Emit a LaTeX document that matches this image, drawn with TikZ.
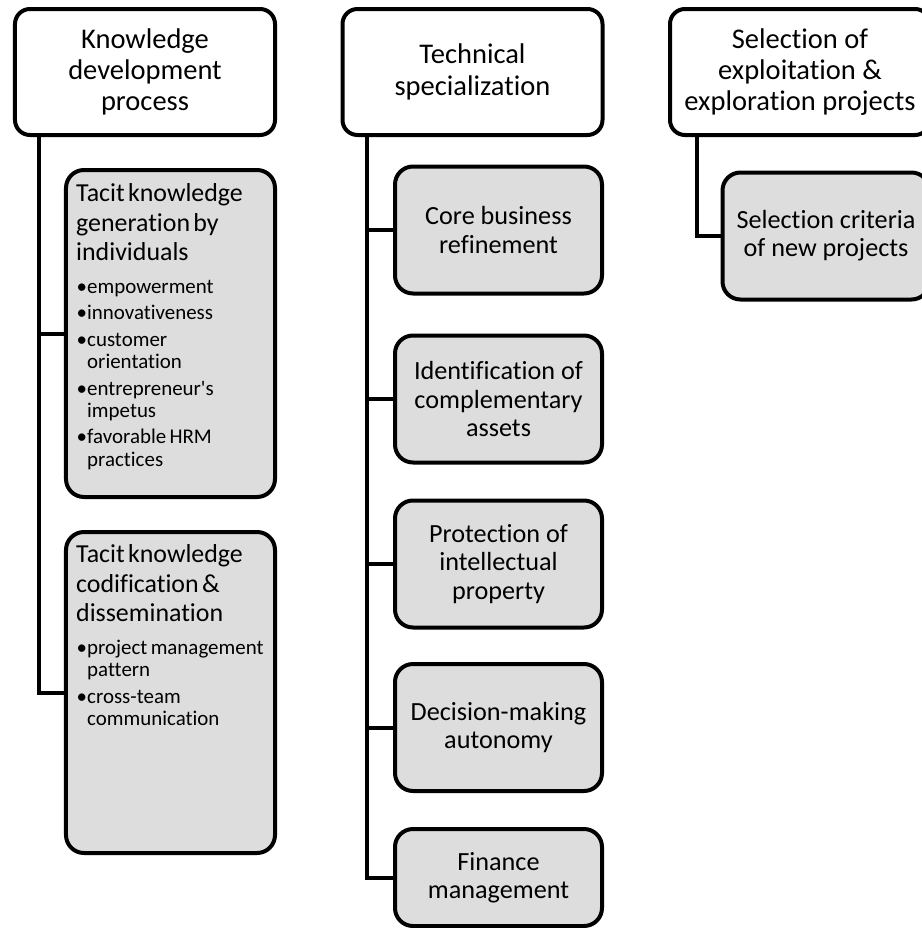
\documentclass[tikz,border=0pt]{standalone}
\usepackage{fontspec}
\setmainfont{Carlito}[Ligatures=NoCommon]
\usepackage{tikz}
\definecolor{leafBg}{RGB}{221,221,221}
\tikzset{
headbox/.style={rectangle, rounded corners=15bp, draw, line width=4bp, fill=white,
  minimum width=260bp, minimum height=126bp, inner sep=0pt, align=center,
  font=\fontsize{28.6}{31.5}\selectfont},
leafbox/.style={rectangle, rounded corners=18bp, draw, line width=4bp, fill=leafBg,
  minimum width=207bp, minimum height=127bp, inner sep=0pt, align=center,
  font=\fontsize{26.3}{28.3}\selectfont},
listtext/.style={inner sep=0pt, text width=195bp, align=left},
link/.style={line width=4bp}
}
\newcommand{\bul}[1]{\par\fontsize{21}{22.5}\selectfont\hangindent=11bp\hangafter=1\noindent\makebox[11bp][l]{\hspace{0.5bp}\textbullet}#1}
\newcommand{\listhead}[1]{\fontsize{26}{30}\selectfont\setlength{\parskip}{4bp}#1\par\vspace{6bp}}

\begin{document}
\begin{tikzpicture}[x=1bp, y=-1bp]
\clip (0,0) rectangle (922,928);
\fill[white] (0,0) rectangle (922,928);

% headers
\node [headbox] (kdp) at (145,72) {Knowledge\\development\\process};
\node [headbox] (tsp) at (472.5,72) {Technical\\specialization};
\node [headbox] (sel) at (800,72) {Selection of\\exploitation \&\\exploration projects};

% knowledge development process
\node [leafbox, minimum width=209bp, minimum height=327bp] (tkgen) at (170.5,333.5) {};
\node [listtext, anchor=north west] (tkgentxt) at ([shift={(12,15)}]tkgen.north west) {\listhead{Tacit knowledge\newline generation by\newline individuals}%
\bul{empowerment}\bul{innovativeness}\bul{customer\newline orientation}\bul{entrepreneur\textquotesingle s\newline impetus}\bul{favorable HRM\newline practices}\par};
\node [leafbox, minimum width=209bp, minimum height=321bp] (tkcod) at (170.5,692.5) {};
\node [listtext, anchor=north west] (tkcodtxt) at ([shift={(12,14)}]tkcod.north west) {\listhead{Tacit knowledge\newline codification \&\newline dissemination}%
\bul{project management\newline pattern}\bul{cross-team\newline communication}\par};

% technical specialization
\node [leafbox] (core) at (498.5,230) {Core business\\refinement};
\node [leafbox] (ident) at (498.5,399) {Identification of\\complementary\\assets};
\node [leafbox] (prot) at (498.5,564) {Protection of\\intellectual\\property};
\node [leafbox] (dec) at (498.5,727.5) {Decision-making\\autonomy};
\node [leafbox, minimum height=97bp] (fin) at (498.5,877.5) {Finance\\management};

% selection
\node [leafbox] (crit) at (826,236) {Selection criteria\\of new projects};

% trunks
\coordinate (kdptrunk) at ([xshift=26bp]kdp.south west);
\coordinate (tsptrunk) at ([xshift=26bp]tsp.south west);
\coordinate (seltrunk) at ([xshift=29bp]sel.south west);

\draw [link] (kdptrunk) |- (tkgen.west);
\draw [link] (kdptrunk) |- (tkcod.west);
\foreach \leaf in {core,ident,prot,dec,fin}
  \draw [link] (tsptrunk) |- (\leaf.west);
\draw [link] (seltrunk) |- (crit.west);

\end{tikzpicture}
\end{document}
